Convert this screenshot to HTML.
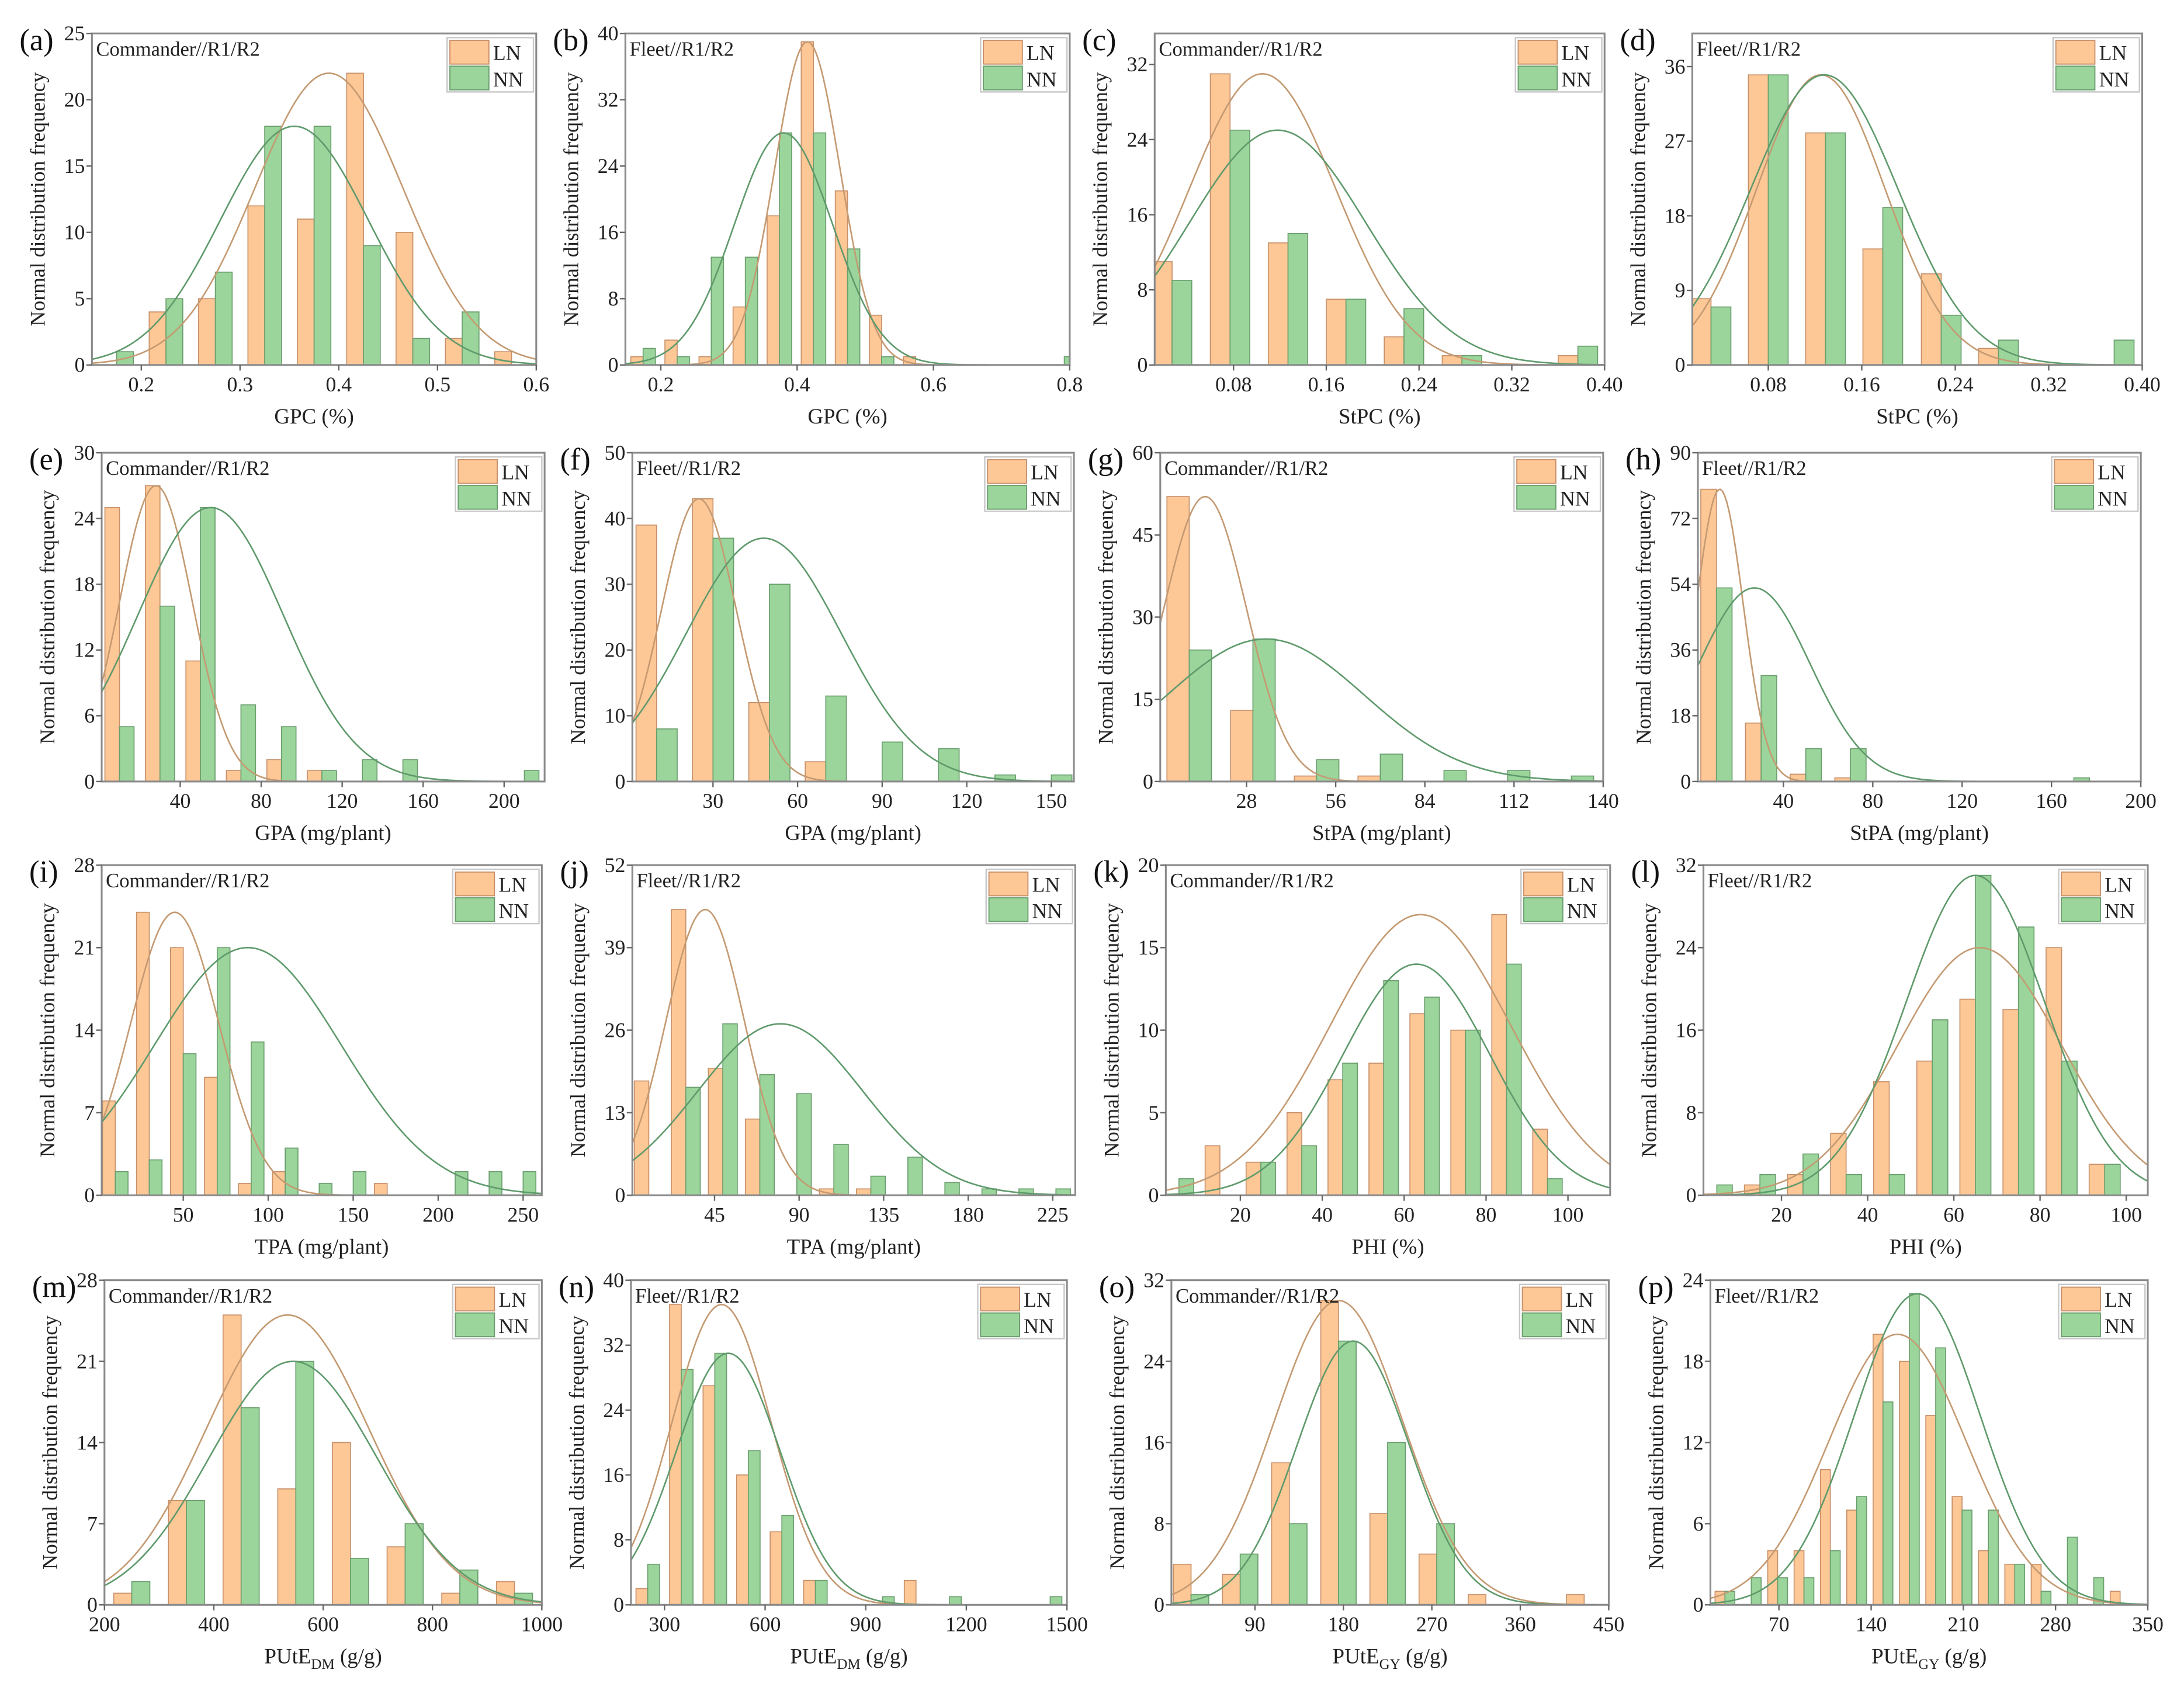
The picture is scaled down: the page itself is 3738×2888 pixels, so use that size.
<!DOCTYPE html>
<html><head><meta charset="utf-8">
<style>
html,body{margin:0;padding:0;background:#fff;}
svg{display:block;font-family:"Liberation Serif",serif;}
</style></head>
<body>
<svg id="fig" width="3738" height="2888" viewBox="0 0 1568 1211" preserveAspectRatio="none" xmlns="http://www.w3.org/2000/svg">
<rect x="0" y="0" width="1568" height="1211" fill="#fff"/>
</svg>
<script>
// ===== data (per panel) =====
const aBins=[0.175,0.225,0.275,0.325,0.375,0.425,0.475,0.525,0.575];
const aLN=[0,4,5,12,11,22,10,2,1];
const aNN=[1,5,7,18,18,9,2,4,0];
const aCurves=[[0.39,0.075,22],[0.355,0.075,18]];
const aXTicks=[0.2,0.3,0.4,0.5,0.6];
const aXLabels=["0.2","0.3","0.4","0.5","0.6"];
const aYTicks=[0,5,10,15,20,25];

const bBins=[0.174,0.224,0.274,0.324,0.374,0.424,0.474,0.524,0.574,0.792];
const bLN=[1,3,1,7,18,39,21,6,1,0];
const bNN=[2,1,13,13,28,28,14,1,0,1];
const bCurves=[[0.415,0.048,39],[0.38,0.072,28]];
const bXTicks=[0.2,0.4,0.6,0.8];
const bXLabels=["0.2","0.4","0.6","0.8"];
const bYTicks=[0,8,16,24,32,40];

const cBins=[0.027,0.077,0.127,0.177,0.227,0.277,0.327,0.377];
const cLN=[11,31,13,7,3,1,0,1];
const cNN=[9,25,14,7,6,1,0,2];
const cCurves=[[0.105,0.063,31],[0.118,0.076,25]];
const cXTicks=[0.08,0.16,0.24,0.32,0.40];
const cXLabels=["0.08","0.16","0.24","0.32","0.40"];
const cYTicks=[0,8,16,24,32];

const dBins=[0.031,0.080,0.129,0.178,0.228,0.277,0.326,0.376];
const dLN=[8,35,28,14,11,2,0,0];
const dNN=[7,35,28,19,6,3,0,3];
const dCurves=[[0.125,0.055,35],[0.128,0.063,35]];
const dXTicks=[0.08,0.16,0.24,0.32,0.40];
const dXLabels=["0.08","0.16","0.24","0.32","0.40"];
const dYTicks=[0,9,18,27,36];

const eBins=[10,30,50,70,90,110,130,150,170,190,210];
const eLN=[25,27,11,1,2,1,0,0,0,0,0];
const eNN=[5,16,25,7,5,1,2,2,0,0,1];
const eCurves=[[28,18,27],[55,36,25]];
const eXTicks=[40,80,120,160,200];
const eXLabels=["40","80","120","160","200"];
const eYTicks=[0,6,12,18,24,30];

const fBins=[10,30,50,70,90,110,130,150];
const fLN=[39,43,12,3,0,0,0,0];
const fNN=[8,37,30,13,6,5,1,1];
const fCurves=[[25,13.3,43],[48,27.6,37]];
const fXTicks=[30,60,90,120,150];
const fXLabels=["30","60","90","120","150"];
const fYTicks=[0,10,20,30,40,50];

const gBins=[10,30,50,70,90,110,130];
const gLN=[52,13,1,1,0,0,0];
const gNN=[24,26,4,5,2,2,1];
const gCurves=[[15,13,52],[34,31,26]];
const gXTicks=[28,56,84,112,140];
const gXLabels=["28","56","84","112","140"];
const gYTicks=[0,15,30,45,60];

const hBins=[10,30,50,70,90,110,130,150,170];
const hLN=[80,16,2,1,0,0,0,0,0];
const hNN=[53,29,9,9,0,0,0,0,1];
const hCurves=[[11.5,10.5,80],[27,25,53]];
const hXTicks=[40,80,120,160,200];
const hXLabels=["40","80","120","160","200"];
const hYTicks=[0,18,36,54,72,90];

const iBins=[10,30,50,70,90,110,130,150,170,190,210,230,250];
const iLN=[8,24,21,10,1,2,0,0,1,0,0,0,0];
const iNN=[2,3,12,21,13,4,1,2,0,0,2,2,2];
const iCurves=[[45,26,24],[88,55,21]];
const iXTicks=[50,100,150,200,250];
const iXLabels=["50","100","150","200","250"];
const iYTicks=[0,7,14,21,28];

const jBins=[10,29.7,49.4,69.1,88.8,108.5,128.2,147.9,167.6,187.3,207,226.7];
const jLN=[18,45,20,12,0,1,1,0,0,0,0,0];
const jNN=[0,17,27,19,16,8,3,6,2,1,1,1];
const jCurves=[[40,21,45],[80,44,27]];
const jXTicks=[45,90,135,180,225];
const jXLabels=["45","90","135","180","225"];
const jYTicks=[0,13,26,39,52];

const kBins=[5,15,25,35,45,55,65,75,85,95];
const kLN=[0,3,2,5,7,8,11,10,17,4];
const kNN=[1,0,2,3,8,13,12,10,14,1];
const kCurves=[[64,22,17],[63,18,14]];
const kXTicks=[20,40,60,80,100];
const kXLabels=["20","40","60","80","100"];
const kYTicks=[0,5,10,15,20];

const lBins=[5,15,25,35,45,55,65,75,85,95];
const lLN=[0,1,2,6,11,13,19,18,24,3];
const lNN=[1,2,4,2,2,17,31,26,13,3];
const lCurves=[[66,19,24],[65,16,31]];
const lXTicks=[20,40,60,80,100];
const lXLabels=["20","40","60","80","100"];
const lYTicks=[0,8,16,24,32];

const mBins=[250,350,450,550,650,750,850,950];
const mLN=[1,9,25,10,14,5,1,2];
const mNN=[2,9,17,21,4,7,3,1];
const mCurves=[[535,149,25],[545,153,21]];
const mXTicks=[200,400,600,800,1000];
const mXLabels=["200","400","600","800","1000"];
const mYTicks=[0,7,14,21,28];

const nBins=[250,350,450,550,650,750,850,950,1050,1150,1250,1350,1450];
const nLN=[2,37,27,16,9,3,0,0,3,0,0,0,0];
const nNN=[5,29,31,19,11,3,0,1,0,1,0,0,1];
const nCurves=[[470,148,37],[490,156,31]];
const nXTicks=[300,600,900,1200,1500];
const nXLabels=["300","600","900","1200","1500"];
const nYTicks=[0,8,16,24,32,40];

const oBins=[25,75,125,175,225,275,325,375,425];
const oLN=[4,3,14,30,9,5,1,0,1];
const oNN=[1,5,8,26,16,8,0,0,0];
const oCurves=[[175,65,30],[190,57,26]];
const oXTicks=[90,180,270,360,450];
const oXLabels=["90","180","270","360","450"];
const oYTicks=[0,8,16,24,32];

const pBins=[29,49,69,89,109,129,149,169,189,209,229,249,269,289,309,329];
const pLN=[1,0,4,4,10,7,20,18,14,8,4,3,3,0,0,1];
const pNN=[1,2,2,2,4,8,15,23,19,7,7,3,1,5,2,0];
const pCurves=[[160,52,20],[175,48,23]];
const pXTicks=[70,140,210,280,350];
const pXLabels=["70","140","210","280","350"];
const pYTicks=[0,6,12,18,24];

// ===== layout config =====
const panels=[
 {id:"a",g:"Commander//R1/R2",xt:"GPC (%)",box:[66,24,385,262],xd:[0.15,0.6],yd:[0,25],w:0.017,bins:aBins,ln:aLN,nn:aNN,cv:aCurves,xtk:aXTicks,xl:aXLabels,ytk:aYTicks},
 {id:"b",g:"Fleet//R1/R2",xt:"GPC (%)",box:[449,24,768,262],xd:[0.148,0.8],yd:[0,40],w:0.018,bins:bBins,ln:bLN,nn:bNN,cv:bCurves,xtk:bXTicks,xl:bXLabels,ytk:bYTicks},
 {id:"c",g:"Commander//R1/R2",xt:"StPC (%)",box:[829,24,1152,262],xd:[0.012,0.40],yd:[0,35.3],w:0.017,bins:cBins,ln:cLN,nn:cNN,cv:cCurves,xtk:cXTicks,xl:cXLabels,ytk:cYTicks},
 {id:"d",g:"Fleet//R1/R2",xt:"StPC (%)",box:[1215,24,1538,262],xd:[0.015,0.40],yd:[0,40],w:0.017,bins:dBins,ln:dLN,nn:dNN,cv:dCurves,xtk:dXTicks,xl:dXLabels,ytk:dYTicks},
 {id:"e",g:"Commander//R1/R2",xt:"GPA (mg/plant)",box:[73,325,391,561],xd:[1.2,220],yd:[0,30],w:7.2,bins:eBins,ln:eLN,nn:eNN,cv:eCurves,xtk:eXTicks,xl:eXLabels,ytk:eYTicks},
 {id:"f",g:"Fleet//R1/R2",xt:"GPA (mg/plant)",box:[454,325,771,561],xd:[1.4,158],yd:[0,50],w:7.3,bins:fBins,ln:fLN,nn:fNN,cv:fCurves,xtk:fXTicks,xl:fXLabels,ytk:fYTicks},
 {id:"g",g:"Commander//R1/R2",xt:"StPA (mg/plant)",box:[833,325,1151,561],xd:[0.9,140],yd:[0,60],w:7,bins:gBins,ln:gLN,nn:gNN,cv:gCurves,xtk:gXTicks,xl:gXLabels,ytk:gYTicks},
 {id:"h",g:"Fleet//R1/R2",xt:"StPA (mg/plant)",box:[1219,325,1537,561],xd:[1.7,200],yd:[0,90],w:7,bins:hBins,ln:hLN,nn:hNN,cv:hCurves,xtk:hXTicks,xl:hXLabels,ytk:hYTicks},
 {id:"i",g:"Commander//R1/R2",xt:"TPA (mg/plant)",box:[73,621,389,858],xd:[2,261],yd:[0,28],w:7.5,bins:iBins,ln:iLN,nn:iNN,cv:iCurves,xtk:iXTicks,xl:iXLabels,ytk:iYTicks},
 {id:"j",g:"Fleet//R1/R2",xt:"TPA (mg/plant)",box:[454,621,772,858],xd:[1.25,237],yd:[0,52],w:7.7,bins:jBins,ln:jLN,nn:jNN,cv:jCurves,xtk:jXTicks,xl:jXLabels,ytk:jYTicks},
 {id:"k",g:"Commander//R1/R2",xt:"PHI (%)",box:[837,621,1156,858],xd:[1.8,110.3],yd:[0,20],w:3.6,bins:kBins,ln:kLN,nn:kNN,cv:kCurves,xtk:kXTicks,xl:kXLabels,ytk:kYTicks},
 {id:"l",g:"Fleet//R1/R2",xt:"PHI (%)",box:[1223,621,1542,858],xd:[1.9,105],yd:[0,32],w:3.6,bins:lBins,ln:lLN,nn:lNN,cv:lCurves,xtk:lXTicks,xl:lXLabels,ytk:lYTicks},
 {id:"m",g:"Commander//R1/R2",xt:"PUtE|DM| (g/g)",box:[75,919,389,1152],xd:[200,1000],yd:[0,28],w:33,bins:mBins,ln:mLN,nn:mNN,cv:mCurves,xtk:mXTicks,xl:mXLabels,ytk:mYTicks},
 {id:"n",g:"Fleet//R1/R2",xt:"PUtE|DM| (g/g)",box:[453,919,766,1152],xd:[200,1500],yd:[0,40],w:35,bins:nBins,ln:nLN,nn:nNN,cv:nCurves,xtk:nXTicks,xl:nXLabels,ytk:nYTicks},
 {id:"o",g:"Commander//R1/R2",xt:"PUtE|GY| (g/g)",box:[841,919,1155,1152],xd:[5,450],yd:[0,32],w:18,bins:oBins,ln:oLN,nn:oNN,cv:oCurves,xtk:oXTicks,xl:oXLabels,ytk:oYTicks},
 {id:"p",g:"Fleet//R1/R2",xt:"PUtE|GY| (g/g)",box:[1228,919,1542,1152],xd:[18,350],yd:[0,24],w:7.5,bins:pBins,ln:pLN,nn:pNN,cv:pCurves,xtk:pXTicks,xl:pXLabels,ytk:pYTicks}
];

const NS="http://www.w3.org/2000/svg";
const svg=document.getElementById('fig');
const LNF="#fdc796", LNS="#c8906a", NNF="#9bd59b", NNS="#6a9e6e";
const LNC="#c49a72", NNC="#5f9a6c";
function mk(tag,attrs,parent){const e=document.createElementNS(NS,tag);for(const k in attrs)e.setAttribute(k,attrs[k]);(parent||svg).appendChild(e);return e;}

panels.forEach(P=>{
  const [L,T,R,B]=P.box;
  const g=mk('g',{});
  
  
  const sx=v=>L+(v-P.xd[0])/(P.xd[1]-P.xd[0])*(R-L);
  const sy=v=>B-(v-P.yd[0])/(P.yd[1]-P.yd[0])*(B-T);
  const cp=mk('clipPath',{id:'clip-'+P.id},g);
  mk('rect',{x:L,y:T,width:R-L,height:B-T},cp);
  const plot=mk('g',{'clip-path':'url(#clip-'+P.id+')'},g);
  
  
  // bars
  P.bins.forEach((b,i)=>{
    if(P.ln[i]>0){
      const r=mk('rect',{x:sx(b-P.w),y:sy(P.ln[i]),width:sx(b)-sx(b-P.w),height:sy(0)-sy(P.ln[i]),fill:LNF,stroke:LNS,'stroke-width':0.7},plot);
      
      
    }
    if(P.nn[i]>0){
      const r=mk('rect',{x:sx(b),y:sy(P.nn[i]),width:sx(b+P.w)-sx(b),height:sy(0)-sy(P.nn[i]),fill:NNF,stroke:NNS,'stroke-width':0.7},plot);
      
      
    }
  });
  // curves
  P.cv.forEach((c,ci)=>{
    let d='';
    for(let k=0;k<=200;k++){
      const x=P.xd[0]+(P.xd[1]-P.xd[0])*k/200;
      const y=c[2]*Math.exp(-((x-c[0])**2)/(2*c[1]*c[1]));
      d+=(k?'L':'M')+sx(x).toFixed(2)+' '+sy(y).toFixed(2);
    }
    const pth=mk('path',{d:d,fill:'none',stroke:ci?NNC:LNC,'stroke-width':1.1},plot);
    
    
  });
  // frame
  const fr=mk('rect',{x:L,y:T,width:R-L,height:B-T,fill:'none',stroke:'#8a8a8a','stroke-width':1.3},g);
  
  
  // x ticks
  P.xtk.forEach((v,i)=>{
    const x=sx(v);
    mk('line',{x1:x,y1:B,x2:x,y2:B+4,stroke:'#666','stroke-width':1},g);
    const t=mk('text',{x:x,y:B+19,'font-size':15,'text-anchor':'middle',fill:'#222'},g);
    t.textContent=P.xl[i];
    
    
  });
  // y ticks
  P.ytk.forEach(v=>{
    const y=sy(v);
    mk('line',{x1:L-4,y1:y,x2:L,y2:y,stroke:'#666','stroke-width':1},g);
    const t=mk('text',{x:L-5,y:y+5,'font-size':15,'text-anchor':'end',fill:'#222'},g);
    t.textContent=String(v);
    
    
  });
  // x title
  const xt=mk('text',{x:(L+R)/2,y:B+42,'font-size':15.5,'text-anchor':'middle',fill:'#222'},g);
  
  
  const parts=P.xt.split('|');
  if(parts.length===3){
    const t1=mk('tspan',{},xt);t1.textContent=parts[0];
    const t2=mk('tspan',{'font-size':10.5,dy:4},xt);t2.textContent=parts[1];
    const t3=mk('tspan',{dy:-4},xt);t3.textContent=parts[2];
  } else xt.textContent=P.xt;
  // y title
  const cy=(T+B)/2, cx=L-34;
  const yt=mk('text',{x:cx,y:cy,'font-size':15,'text-anchor':'middle',fill:'#222',transform:'rotate(-90 '+cx+' '+cy+')'},g);
  yt.textContent='Normal distribution frequency';
  
  
  // panel letter
  const pl=mk('text',{x:L-52,y:T+12,'font-size':22,fill:'#111'},g);
  pl.textContent='('+P.id+')';
  
  
  // genotype label
  const gl=mk('text',{x:L+3,y:T+16,'font-size':14.5,fill:'#222'},g);
  gl.textContent=P.g;
  
  
  // legend
  const lg=mk('g',{},g);
  
  
  const lx=R-64, ly=T+3;
  mk('rect',{x:lx,y:ly,width:62,height:39,fill:'#fff',stroke:'#c8c8c8','stroke-width':1},lg);
  const s1=mk('rect',{x:lx+2,y:ly+2,width:28,height:17,fill:LNF,stroke:LNS,'stroke-width':0.8},lg);
  
  
  const s2=mk('rect',{x:lx+2,y:ly+20.5,width:28,height:17,fill:NNF,stroke:NNS,'stroke-width':0.8},lg);
  
  
  const t1=mk('text',{x:lx+33,y:ly+16,'font-size':15,fill:'#222'},lg);t1.textContent='LN';
  
  
  const t2=mk('text',{x:lx+33,y:ly+35,'font-size':15,fill:'#222'},lg);t2.textContent='NN';
  
  
});
</script>
</body></html>
